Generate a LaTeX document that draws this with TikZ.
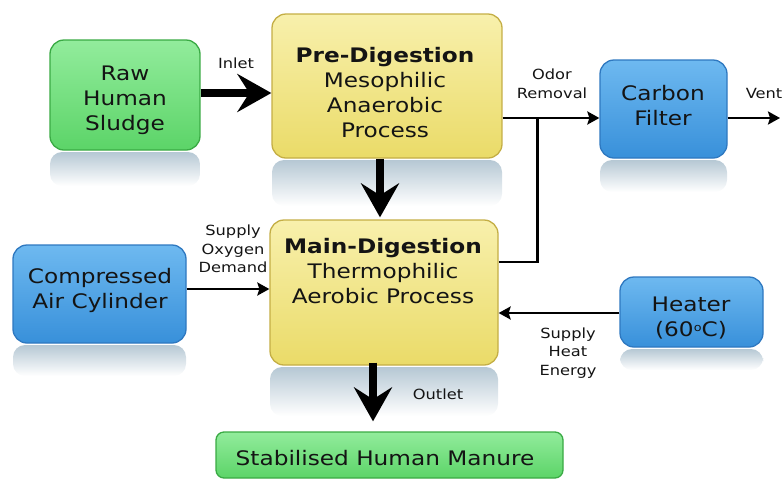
\documentclass[tikz,border=0pt]{standalone}
\usepackage{fontspec}
\setmainfont{DejaVu Sans}[FakeStretch=1.16]
\usetikzlibrary{arrows.meta,calc}
\definecolor{txt}{HTML}{141414}
\definecolor{gtop}{HTML}{92EC9C}\definecolor{gmid}{HTML}{6CE078}\definecolor{gbot}{HTML}{5CD468}\definecolor{gline}{HTML}{3AAA44}
\definecolor{ytop}{HTML}{F8F0AC}\definecolor{ymid}{HTML}{F2E67C}\definecolor{ybot}{HTML}{EADB68}\definecolor{yline}{HTML}{C4AE45}
\definecolor{btop}{HTML}{6EB9F0}\definecolor{bmid}{HTML}{4AA3E6}\definecolor{bbot}{HTML}{3890DA}\definecolor{bline}{HTML}{2E78C0}
\definecolor{refl}{HTML}{B6C8D4}
\tikzset{
  box/.style={draw, line width=1.3pt, rounded corners=14pt, inner sep=0pt},
  gbox/.style={box, draw=gline, top color=gtop, middle color=gmid, bottom color=gbot},
  ybox/.style={box, draw=yline, top color=ytop, middle color=ymid, bottom color=ybot},
  bbox/.style={box, draw=bline, top color=btop, middle color=bmid, bottom color=bbot},
  reflbox/.style={rounded corners=12pt, top color=refl, bottom color=white, draw=none},
  big/.style={text=txt, align=center, font=\fontsize{20}{25}\selectfont},
  small/.style={text=txt, align=center, font=\fontsize{14}{18.5}\selectfont},
  thick arrow/.style={line width=7.5pt, -{Stealth[length=34pt,width=38pt,inset=12pt]}},
  thin arrow/.style={line width=2.8pt, -{Stealth[length=12pt,width=13pt,inset=2pt]}},
  thin line/.style={line width=2.8pt}
}
\begin{document}
\begin{tikzpicture}[x=1pt,y=-1pt]
\useasboundingbox (0,0) rectangle (784,480);
% reflections
\shade[reflbox] (50,152) rectangle (200,186);
\shade[reflbox] (272,160) rectangle (502,206);
\shade[reflbox] (600,160) rectangle (727,192);
\shade[reflbox] (270,367) rectangle (498,416);
\shade[reflbox] (13,345) rectangle (186,376);
\shade[reflbox] (620,349) rectangle (763,370);
% boxes
\node[gbox, minimum width=150pt, minimum height=110pt] (raw) at (125,95) {};
\node[ybox, minimum width=230pt, minimum height=144pt] (pre) at (387,86) {};
\node[bbox, minimum width=127pt, minimum height=98pt] (carbon) at (663.5,109) {};
\node[ybox, minimum width=228pt, minimum height=145pt] (main) at (384,292.5) {};
\node[bbox, minimum width=173pt, minimum height=98pt] (comp) at (99.5,294) {};
\node[bbox, minimum width=143pt, minimum height=70pt] (heater) at (691.5,312) {};
\node[gbox, rounded corners=8pt, minimum width=347pt, minimum height=46pt] (stab) at (389.5,455) {};
% texts
\node[big] (rawt) at (125,100) {Raw\\Human\\Sludge};
\node[big] (pret) at (385,93) {\textbf{Pre-Digestion}\\Mesophilic\\Anaerobic\\Process};
\node[big] (carbt) at (663,106) {Carbon\\Filter};
\node[big] (maint) at (383,271) {\textbf{Main-Digestion}\\Thermophilic\\Aerobic Process};
\node[big] (compt) at (100,290) {Compressed\\Air Cylinder};
\node[big] (heatt) at (691,318) {Heater\\(60\raisebox{0.5ex}{\fontsize{11}{11}\selectfont o}C)};
\node[big] (stabt) at (385,458) {Stabilised Human Manure};
% labels
\node[small] (linlet) at (236,63) {Inlet};
\node[small] (lodor) at (552,84) {Odor\\Removal};
\node[small] (lvent) at (764,93) {Vent};
\node[small] (loxy) at (233,249) {Supply\\Oxygen\\Demand};
\node[small] (lheat) at (568,353) {Supply\\Heat\\Energy};
\node[small] (lout) at (438,394) {Outlet};
% connectors
\draw[thick arrow] ([yshift=2pt]raw.east) -- ([yshift=2pt]raw.east -| pre.west);
\draw[thick arrow] ([xshift=-7pt]pre.south) -- ([xshift=-7pt,yshift=2pt]pre.south |- main.north);
\draw[thick arrow] ([xshift=-11pt,yshift=3pt]main.south) -- ([xshift=-11pt,yshift=10pt]main.south |- stab.north);
\draw[thin arrow] ([yshift=-32pt]pre.east) -- ([yshift=-32pt]pre.east -| carbon.west);
\coordinate (join) at ($([yshift=-32pt]pre.east)!0.36!([yshift=-32pt]pre.east -| carbon.west)$);
\draw[thin line] ([yshift=30.5pt]main.east) -| ([yshift=-1pt]join);
\coordinate (vent) at (780,118);
\draw[thin arrow] ([yshift=-9pt]carbon.east) -- (vent);
\draw[thin arrow] ([yshift=5pt]comp.east) -- ([yshift=5pt]comp.east -| main.west);
\draw[thin arrow] ([yshift=-1pt]heater.west) -- ([yshift=-1pt]heater.west -| main.east);
\end{tikzpicture}
\end{document}
